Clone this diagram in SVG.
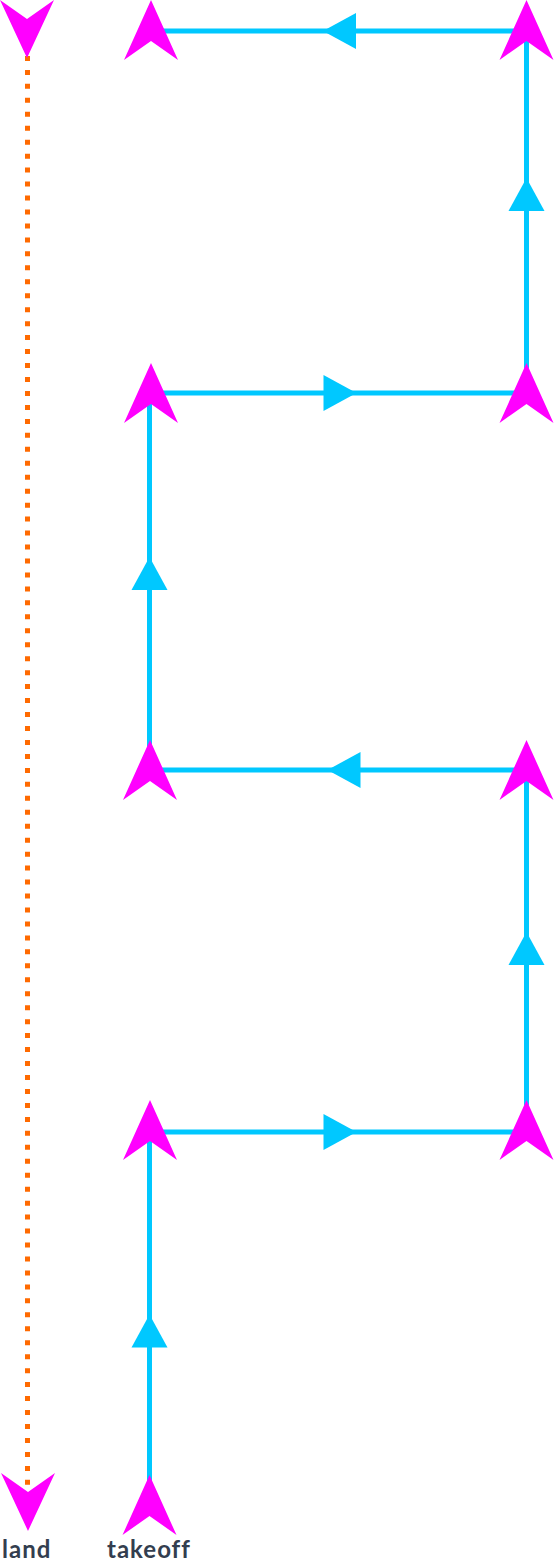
<svg xmlns="http://www.w3.org/2000/svg" xmlns:xlink="http://www.w3.org/1999/xlink" width="554" height="1560" viewBox="0 0 554 1560">
<style>
.path{fill:none;stroke:#00c8ff;stroke-width:5}
.dot{fill:none;stroke:#ff6a00;stroke-width:5;stroke-dasharray:5 8.96}
.arr{fill:#00c8ff}
.mk{fill:#ff00ff}
.lbl{font-family:Lato,"Liberation Sans",sans-serif;font-weight:bold;font-size:24px;letter-spacing:1px;fill:#333e4f}
</style>
<defs>
<polygon id="arr" points="16.5,0 -16.5,-18 -16.5,18"/>
<polygon id="up" points="0,-30 27,30 0,11 -27,30"/>
<polygon id="down" points="0,29 27,-29 0,-10 -27,-29"/>
</defs>
<rect width="554" height="1560" fill="#fff"/>
<g id="connectors">
<line class="dot" x1="27.5" y1="28" x2="27.5" y2="1502"/>
<polyline class="path" points="149.5,1505 149.5,1132 526.5,1132 526.5,770 149.5,770 149.5,393 526.5,393 526.5,31 149.5,31"/>
<g class="arr">
<use xlink:href="#arr" transform="translate(149.5,1331) rotate(-90)"/>
<use xlink:href="#arr" transform="translate(340,1132)"/>
<use xlink:href="#arr" transform="translate(526.5,948.5) rotate(-90)"/>
<use xlink:href="#arr" transform="translate(344,770) rotate(180)"/>
<use xlink:href="#arr" transform="translate(149.5,573.5) rotate(-90)"/>
<use xlink:href="#arr" transform="translate(340,393)"/>
<use xlink:href="#arr" transform="translate(526.5,194.5) rotate(-90)"/>
<use xlink:href="#arr" transform="translate(339.5,31) rotate(180)"/>
</g>
</g>
<g id="takeoff" class="mk"><use xlink:href="#up" x="149.5" y="1505"/></g>
<g id="wp1" class="mk"><use xlink:href="#up" x="150" y="1130"/></g>
<g id="wp2" class="mk"><use xlink:href="#up" x="526.5" y="1130"/></g>
<g id="wp3" class="mk"><use xlink:href="#up" x="526.5" y="770"/></g>
<g id="wp4" class="mk"><use xlink:href="#up" x="150" y="770"/></g>
<g id="wp5" class="mk"><use xlink:href="#up" x="151" y="393"/></g>
<g id="wp6" class="mk"><use xlink:href="#up" x="526.5" y="393"/></g>
<g id="wp7" class="mk"><use xlink:href="#up" x="526.5" y="30"/></g>
<g id="wp8" class="mk"><use xlink:href="#up" x="151" y="30"/></g>
<g id="land-top" class="mk"><use xlink:href="#down" x="27" y="29"/></g>
<g id="land" class="mk"><use xlink:href="#down" x="28" y="1502"/></g>
<g id="labels">
<text class="lbl" x="2" y="1558">land</text>
<text class="lbl" x="107" y="1558">takeoff</text>
</g>
</svg>
